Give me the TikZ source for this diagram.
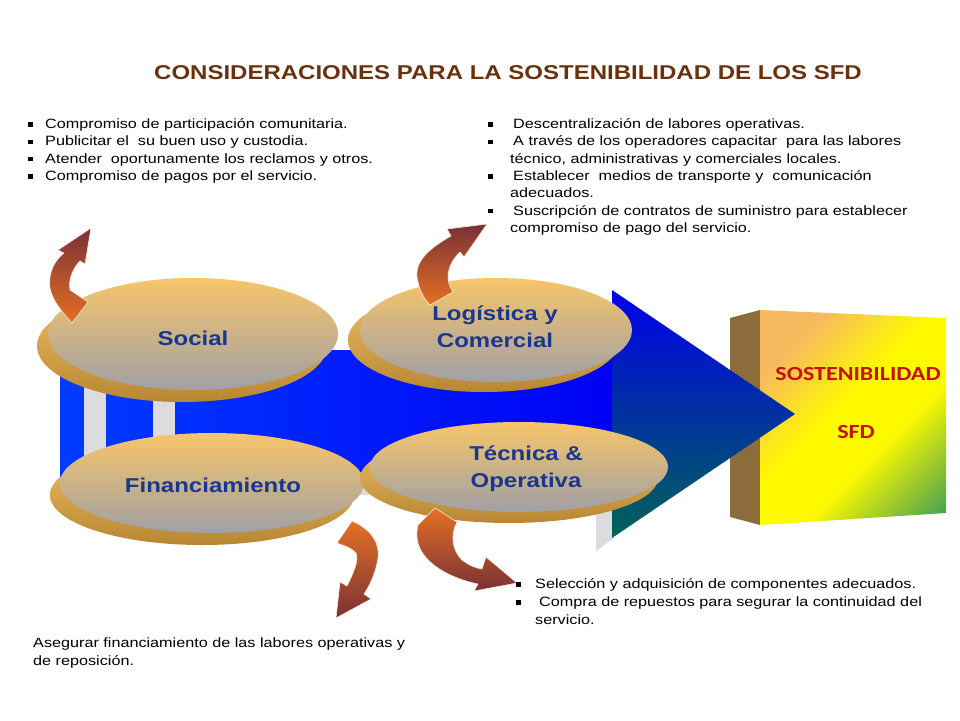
\documentclass[tikz,border=0pt]{standalone}
\usepackage{fontspec}
\setmainfont{Liberation Sans}
\newfontfamily\bodyf[FakeStretch=1.2]{Liberation Sans}
\newfontfamily\calf[FakeStretch=1.2]{Carlito}
\usetikzlibrary{shapes.geometric}
\definecolor{greyside}{RGB}{220,220,222}
\definecolor{blueA}{RGB}{0,60,255}
\definecolor{blueB}{RGB}{0,0,245}
\definecolor{headA}{RGB}{0,0,235}
\definecolor{headB}{RGB}{10,40,170}
\definecolor{headC}{RGB}{0,100,85}
\definecolor{boxside}{RGB}{140,108,58}
\definecolor{sostA}{RGB}{246,185,95}
\definecolor{sostB}{RGB}{255,250,0}
\definecolor{sostC}{RGB}{50,150,90}
\definecolor{ebA}{RGB}{238,192,105}
\definecolor{ebB}{RGB}{185,135,50}
\definecolor{efA}{RGB}{247,197,106}
\definecolor{efB}{RGB}{160,160,165}
\definecolor{labblue}{RGB}{25,55,140}
\definecolor{titlebrown}{RGB}{105,50,15}
\definecolor{sred}{RGB}{200,15,15}
\definecolor{arrO}{RGB}{228,112,35}
\definecolor{arrP}{RGB}{212,95,90}
\definecolor{arrD}{RGB}{122,48,55}
\definecolor{arrEdge}{RGB}{250,238,225}
\pgfdeclarehorizontalshading{sostshade}{100bp}{color(0bp)=(sostA); color(26bp)=(sostA); color(46bp)=(sostB); color(60bp)=(sostB); color(86bp)=(sostC); color(100bp)=(sostC)}
\newcommand\bsq[1]{\makebox[#1][l]{\rule[1.8pt]{4.3pt}{4.3pt}}}
\tikzset{
  ellback/.style={ellipse, inner sep=0pt, top color=ebA, bottom color=ebB},
  ellfront/.style={ellipse, inner sep=0pt, top color=efA, bottom color=efB},
  lab/.style={font=\bodyf\bfseries\fontsize{20}{27}\selectfont, text=labblue, align=center, inner sep=0pt},
  btxt/.style={font=\bodyf\fontsize{13.5}{17.3}\selectfont, anchor=base west, inner sep=0pt},
  arrup/.style={top color=arrD, middle color=arrP, bottom color=arrO, draw=arrEdge, line width=0.6pt},
  arrdown/.style={top color=arrO, middle color=arrP, bottom color=arrD, draw=arrEdge, line width=0.6pt},
}
\begin{document}
\begin{tikzpicture}[x=1pt,y=-1pt]
\path[use as bounding box, fill=white] (0,0) rectangle (960,720);

% grey side faces of the big arrow
\fill[greyside] (200,474) rectangle (612,495);
\fill[greyside] (596,498) -- (614,498) -- (614,538) -- (596,551) -- cycle;
% arrow body
\shade[left color=blueA, right color=blueB] (60,350) rectangle (615,478);
% 3D box
\fill[boxside] (730,318) -- (760,310) -- (760,525) -- (730,517) -- cycle;
\shade[shading=sostshade, shading angle=-45] (760,310) -- (946,318) -- (946,513) -- (760,525) -- cycle;
% arrow head
\shade[top color=headA, middle color=headB, bottom color=headC] (612,290) -- (795,414) -- (612,538) -- cycle;
% grey strips
\fill[greyside] (84,385) rectangle (106,456);
\fill[greyside] (153,385) rectangle (175,456);

% ellipses
\node[ellback, minimum width=290pt, minimum height=112pt] (socb) at (182,346) {};
\node[ellfront, minimum width=290pt, minimum height=112pt] (soc) at (193,334) {};
\node[ellback, minimum width=272pt, minimum height=104pt] (logb) at (484,340) {};
\node[ellfront, minimum width=272pt, minimum height=104pt] (log) at (496,330) {};
\node[ellback, minimum width=304pt, minimum height=100pt] (finb) at (202,495) {};
\node[ellfront, minimum width=304pt, minimum height=100pt] (fin) at (212,483) {};
\node[ellback, minimum width=298pt, minimum height=90pt] (tecb) at (509,478) {};
\node[ellfront, minimum width=298pt, minimum height=90pt] (tec) at (519,467) {};

% curved arrows
\path[arrup] (88,302) -- (72,323) .. controls (62,312) and (52,300) .. (50,288)
  .. controls (48,272) and (55,260) .. (64,253) -- (58,250) -- (91,228) -- (85,264) -- (80,261)
  .. controls (73,268) and (68,280) .. (70,290) -- cycle;
\path[arrup] (430,305) -- (453,292) .. controls (445,280) and (446,266) .. (460,252)
  -- (464,257) -- (487,224) -- (447,229) -- (451,236)
  .. controls (430,248) and (412,262) .. (418,282) .. controls (420,292) and (425,300) .. (430,305) -- cycle;
\path[arrdown] (337,543) -- (352,521) .. controls (368,528) and (380,540) .. (378,558)
  .. controls (376,572) and (370,585) .. (364,594) -- (371,599) -- (336,618) -- (340,582) -- (347,586)
  .. controls (354,572) and (359,560) .. (356,553) .. controls (352,548) and (345,546) .. (337,543) -- cycle;
\path[arrdown] (418,525) -- (435,508) -- (457,522) .. controls (450,535) and (452,550) .. (462,560)
  .. controls (470,566) and (476,568) .. (482,569) -- (486,557) -- (517,583) -- (474,591) -- (478,584)
  .. controls (458,580) and (435,570) .. (424,555) .. controls (416,545) and (416,533) .. (418,525) -- cycle;

% labels
\node[lab] (tsoc) at (193,338) {Social};
\node[lab] (tfin) at (213,485) {Financiamiento};
\node[lab] (tlog) at (495,327) {Logística y\\Comercial};
\node[lab] (ttec) at (526,469) {Técnica \&\\Operativa};

\node[font=\bodyf\bfseries\fontsize{20}{24}\selectfont, text=titlebrown, inner sep=0pt] (title) at (508,73) {CONSIDERACIONES PARA LA SOSTENIBILIDAD DE LOS SFD};

\node[font=\calf\bfseries\fontsize{20}{24}\selectfont, text=sred, inner sep=0pt] (s1) at (858,374) {SOSTENIBILIDAD};
\node[font=\calf\bfseries\fontsize{20}{24}\selectfont, text=sred, inner sep=0pt] (s2) at (856,432) {SFD};

% left block
\node[btxt] (l1) at (28,128.5) {\bsq{17pt}Compromiso de participación comunitaria.};
\node[btxt] (l2) at (28,145.8) {\bsq{17pt}Publicitar el\ \ su buen uso y custodia.};
\node[btxt] (l3) at (28,163.1) {\bsq{17pt}Atender\ \ oportunamente los reclamos y otros.};
\node[btxt] (l4) at (28,180.4) {\bsq{17pt}Compromiso de pagos por el servicio.};

% right block
\node[btxt] (r1) at (488,128.5) {\bsq{25pt}Descentralización de labores operativas.};
\node[btxt] (r2) at (488,145.8) {\bsq{25pt}A través de los operadores capacitar\ \ para las labores};
\node[btxt] (r3) at (510,163.1) {técnico, administrativas y comerciales locales.};
\node[btxt] (r4) at (488,180.4) {\bsq{25pt}Establecer\ \ medios de transporte y\ \ comunicación};
\node[btxt] (r5) at (510,197.7) {adecuados.};
\node[btxt] (r6) at (488,215.0) {\bsq{25pt}Suscripción de contratos de suministro para establecer};
\node[btxt] (r7) at (510,232.3) {compromiso de pago del servicio.};

% bottom right block
\node[btxt] (b1) at (516,588.5) {\bsq{19pt}Selección y adquisición de componentes adecuados.};
\node[btxt] (b2) at (516,606.3) {\bsq{23pt}Compra de repuestos para segurar la continuidad del};
\node[btxt] (b3) at (535,624.1) {servicio.};

% bottom left block
\node[btxt] (f1) at (33,647.5) {Asegurar financiamiento de las labores operativas y};
\node[btxt] (f2) at (33,665.0) {de reposición.};
\end{tikzpicture}
\end{document}
